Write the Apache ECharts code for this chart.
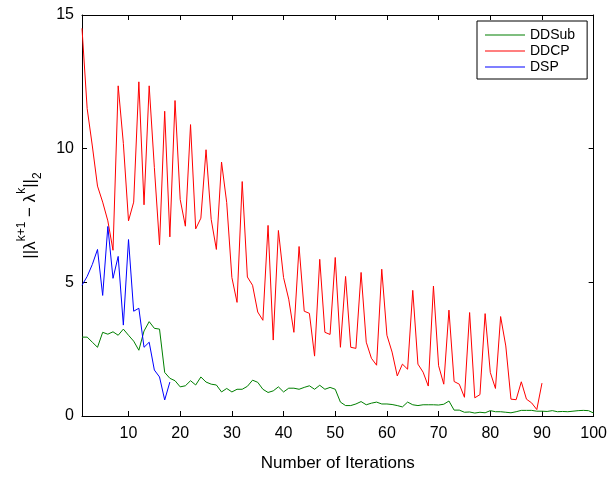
<!DOCTYPE html>
<html>
<head>
<meta charset="utf-8">
<script src="https://cdn.jsdelivr.net/npm/echarts@6/dist/echarts.min.js"></script>
<style>
html,body{margin:0;padding:0;background:#fff;}
#c{width:610px;height:477px;}
</style>
</head>
<body>
<div id="c"></div>
<script>
var xTicks = [10, 20, 30, 40, 50, 60, 70, 80, 90, 100];
var yTicks = [0, 5, 10, 15];

var ddsub = [2.95, 2.95, 2.76, 2.57, 3.13, 3.06, 3.15, 3.02, 3.25, 3.02,
  2.8, 2.46, 3.18, 3.53, 3.28, 3.25, 1.63, 1.41, 1.32, 1.09,
  1.13, 1.32, 1.16, 1.46, 1.27, 1.19, 1.16, 0.9, 1.03, 0.9,
  1.0, 1.0, 1.11, 1.34, 1.26, 1.0, 0.88, 0.94, 1.09, 0.9,
  1.04, 1.04, 1.0, 1.07, 1.13, 1.0, 1.15, 1.0, 1.07, 1.0,
  0.52, 0.39, 0.39, 0.45, 0.54, 0.42, 0.48, 0.52, 0.45, 0.45,
  0.43, 0.39, 0.34, 0.52, 0.42, 0.39, 0.42, 0.42, 0.42, 0.41,
  0.44, 0.56, 0.22, 0.22, 0.14, 0.15, 0.11, 0.14, 0.12, 0.2,
  0.16, 0.16, 0.14, 0.12, 0.16, 0.21, 0.21, 0.21, 0.18, 0.18,
  0.17, 0.2, 0.16, 0.17, 0.16, 0.18, 0.2, 0.21, 0.2, 0.11];

var ddcp = [14.5, 11.5, 10.1, 8.6, 8.0, 7.3, 6.2, 12.35, 10.2, 7.3,
  8.0, 12.5, 7.9, 12.35, 9.3, 6.4, 11.4, 6.7, 11.8, 8.1,
  7.1, 10.9, 7.0, 7.4, 9.96, 7.35, 6.23, 9.5, 7.98, 5.18,
  4.25, 8.77, 5.2, 4.89, 3.89, 3.58, 7.13, 2.84, 6.94, 5.18,
  4.37, 3.13, 6.34, 3.92, 3.84, 2.24, 5.86, 3.13, 3.05, 5.93,
  2.57, 5.22, 2.57, 2.53, 5.37, 2.76, 2.16, 1.9, 5.49, 3.02,
  2.39, 1.5, 1.94, 1.75, 4.7, 1.94, 1.64, 1.12, 4.86, 1.88,
  1.19, 3.96, 1.29, 1.19, 0.7, 3.87, 0.68, 0.8, 3.83, 1.63,
  1.03, 3.72, 2.62, 0.63, 0.61, 1.28, 0.63, 0.49, 0.24, 1.23];

var dsp = [4.89, 5.22, 5.67, 6.23, 4.51, 7.09, 5.15, 5.97, 3.4, 6.6,
  3.92, 4.03, 2.57, 2.76, 1.72, 1.46, 0.6, 1.27];

function pairs(arr) { return arr.map(function (v, i) { return [i + 1, v]; }); }

var FONT = '"Liberation Sans", Arial, Helvetica, sans-serif';
var chart = echarts.init(document.getElementById('c'), null, {renderer: 'canvas'});

function xAx(pos, showLabel, name) {
  return {
    type: 'value', position: pos, min: 1, max: 100,
    axisLine: {show: true, onZero: false, lineStyle: {color: '#000', width: 1}},
    axisTick: {show: true, inside: true, length: 5, customValues: xTicks, lineStyle: {color: '#000'}},
    axisLabel: {show: showLabel, customValues: xTicks, margin: 10, color: '#000', fontSize: 16, fontFamily: FONT},
    splitLine: {show: false},
    name: name, nameLocation: 'middle', nameGap: 39,
    nameTextStyle: {color: '#000', fontSize: 17, fontFamily: FONT}
  };
}
function yAx(pos, showLabel, withName) {
  var o = {
    type: 'value', position: pos, min: 0, max: 15, interval: 5,
    axisLine: {show: true, onZero: false, lineStyle: {color: '#000', width: 1}},
    axisTick: {show: true, inside: true, length: 5, lineStyle: {color: '#000'}},
    axisLabel: {show: showLabel, margin: 8, color: '#000', fontSize: 16, fontFamily: FONT},
    splitLine: {show: false}
  };
  if (withName) {
    o.name = '{n|||\u03bb}{s|k+1}{n| \u2212 \u03bb}{s|k}{n|||}{b|2}';
    o.nameLocation = 'middle';
    o.nameRotate = 90;
    o.nameGap = 38;
    o.nameTextStyle = {
      color: '#000', fontFamily: FONT,
      rich: {
        n: {fontSize: 17, fontFamily: FONT, color: '#000', lineHeight: 28, verticalAlign: 'middle'},
        s: {fontSize: 12, fontFamily: FONT, color: '#000', lineHeight: 28, verticalAlign: 'top'},
        b: {fontSize: 12, fontFamily: FONT, color: '#000', lineHeight: 28, verticalAlign: 'bottom'}
      }
    };
  }
  return o;
}

chart.setOption({
  animation: false,
  backgroundColor: '#fff',
  grid: {left: 82, right: 16, top: 15, bottom: 60, containLabel: false},
  xAxis: [xAx('bottom', true, 'Number of Iterations'), xAx('top', false, '')],
  yAxis: [yAx('left', true, true), yAx('right', false, false)],
  legend: {
    left: 477, top: 21, orient: 'vertical',
    backgroundColor: '#fff', borderColor: '#000', borderWidth: 1,
    padding: [7, 12, 5, 8], itemGap: 2, itemWidth: 40, itemHeight: 1,
    icon: 'rect',
    textStyle: {color: '#000', fontSize: 14, fontFamily: FONT, lineHeight: 14},
    data: ['DDSub', 'DDCP', 'DSP']
  },
  series: [
    {name: 'DDSub', type: 'line', data: pairs(ddsub), symbol: 'none', lineStyle: {color: '#007f00', width: 1}, itemStyle: {color: '#007f00'}},
    {name: 'DDCP', type: 'line', data: pairs(ddcp), symbol: 'none', lineStyle: {color: '#ff0000', width: 1}, itemStyle: {color: '#ff0000'}},
    {name: 'DSP', type: 'line', data: pairs(dsp), symbol: 'none', lineStyle: {color: '#0000ff', width: 1}, itemStyle: {color: '#0000ff'}}
  ]
});
</script>
</body>
</html>
